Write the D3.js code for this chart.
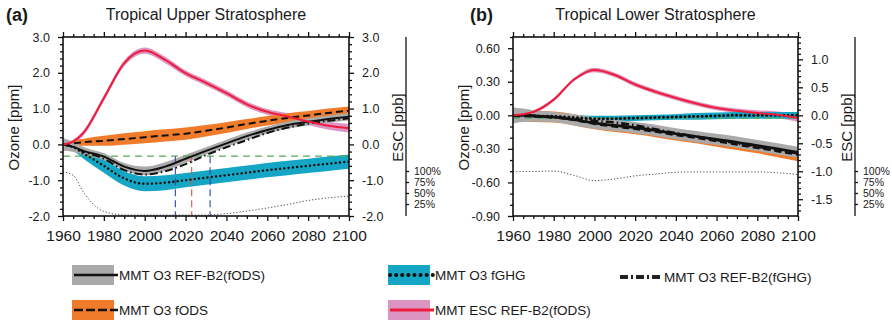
<!DOCTYPE html>
<html>
<head>
<meta charset="utf-8">
<script src="https://cdn.jsdelivr.net/npm/d3@7"></script>
<style>
  body { margin: 0; background: #fff; }
  text { font-family: "Liberation Sans", Arial, Helvetica, sans-serif; fill: #1a1a1a; }
</style>
</head>
<body>
<svg id="chart" width="892" height="323"></svg>
<script>
// ---- data ----
var years = [1960, 1965, 1970, 1980, 1990, 2000, 2010, 2020, 2030, 2040, 2050, 2060, 2070, 2080, 2090, 2100];

// (a) Tropical Upper Stratosphere, ozone in ppm, ESC in ppb
var escA       = [0.0, 0.08, 0.32, 1.29, 2.27, 2.62, 2.36, 1.99, 1.72, 1.43, 1.12, 0.91, 0.78, 0.64, 0.52, 0.45];
var escSprA    = [0.05, 0.06, 0.07, 0.08, 0.08, 0.09, 0.09, 0.08, 0.08, 0.08, 0.08, 0.08, 0.09, 0.10, 0.11, 0.12];
var refA       = [0.0, -0.07, -0.18, -0.34, -0.62, -0.74, -0.62, -0.40, -0.18, 0.03, 0.23, 0.40, 0.54, 0.63, 0.71, 0.77];
var refSprA    = [0.18, 0.14, 0.11, 0.10, 0.10, 0.12, 0.12, 0.11, 0.10, 0.10, 0.10, 0.10, 0.10, 0.10, 0.10, 0.10];
var refGhgA    = [0.0, -0.07, -0.20, -0.40, -0.72, -0.84, -0.75, -0.55, -0.30, -0.08, 0.12, 0.32, 0.47, 0.58, 0.66, 0.73];
var fodsA      = [0.0, 0.03, 0.06, 0.10, 0.15, 0.20, 0.25, 0.30, 0.38, 0.47, 0.57, 0.66, 0.74, 0.81, 0.88, 0.94];
var fodsSprA   = [0.05, 0.08, 0.10, 0.14, 0.16, 0.17, 0.17, 0.17, 0.16, 0.15, 0.14, 0.13, 0.13, 0.12, 0.12, 0.12];
var fghgA      = [0.0, -0.08, -0.25, -0.60, -0.95, -1.10, -1.07, -1.00, -0.93, -0.86, -0.79, -0.72, -0.66, -0.60, -0.54, -0.48];
var fghgSprA   = [0.05, 0.10, 0.15, 0.19, 0.20, 0.21, 0.21, 0.20, 0.20, 0.20, 0.20, 0.20, 0.20, 0.20, 0.20, 0.20];
var pctA       = [98, 90, 52, 8, 0, 0, 0, 0, 0, 3, 9, 16, 24, 33, 39, 43];
var baseA = -0.33;
var returnA = [2015, 2023, 2032];

// (b) Tropical Lower Stratosphere
var escB       = [0.0, 0.02, 0.06, 0.28, 0.64, 0.81, 0.72, 0.55, 0.42, 0.31, 0.21, 0.13, 0.08, 0.04, 0.01, -0.05];
var escSprB    = [0.02, 0.02, 0.03, 0.03, 0.03, 0.04, 0.04, 0.04, 0.04, 0.04, 0.04, 0.04, 0.04, 0.05, 0.06, 0.07];
var refB       = [0.0, 0.0, -0.005, -0.015, -0.04, -0.07, -0.09, -0.11, -0.135, -0.165, -0.19, -0.215, -0.24, -0.27, -0.30, -0.33];
var refSprB    = [0.07, 0.06, 0.05, 0.045, 0.05, 0.05, 0.05, 0.05, 0.05, 0.05, 0.05, 0.05, 0.05, 0.05, 0.05, 0.05];
var refGhgB    = [0.0, 0.0, -0.005, -0.02, -0.035, -0.05, -0.065, -0.09, -0.125, -0.16, -0.19, -0.22, -0.25, -0.28, -0.31, -0.34];
var fodsB      = [-0.005, -0.005, -0.01, -0.015, -0.04, -0.075, -0.10, -0.12, -0.145, -0.175, -0.20, -0.23, -0.26, -0.29, -0.32, -0.35];
var fodsSprB   = [0.05, 0.05, 0.05, 0.05, 0.05, 0.05, 0.05, 0.05, 0.05, 0.05, 0.05, 0.05, 0.05, 0.05, 0.055, 0.06];
var fghgB      = [0.0, 0.0, -0.005, -0.01, -0.02, -0.03, -0.03, -0.025, -0.02, -0.015, -0.01, -0.005, 0.0, 0.0, 0.0, 0.0];
var fghgSprB   = [0.02, 0.02, 0.02, 0.02, 0.025, 0.025, 0.025, 0.025, 0.025, 0.025, 0.03, 0.03, 0.03, 0.03, 0.03, 0.03];
var pctB       = [98, 99, 99, 100, 90, 78, 82, 89, 93, 97, 98, 98, 98, 98, 96, 92];
var baseB = -0.025;

var xTicks = [1960, 1980, 2000, 2020, 2040, 2060, 2080, 2100];
var pctTicks = [100, 75, 50, 25];

var legendItems = [
  { label: 'MMT O3 REF-B2(fODS)', band: '#aaaaaa', line: 'solid' },
  { label: 'MMT O3 fODS', band: '#f07b2b', line: 'dash' },
  { label: 'MMT O3 fGHG', band: '#14a6c4', line: 'dot' },
  { label: 'MMT ESC REF-B2(fODS)', band: '#dc94c2', line: 'red' },
  { label: 'MMT O3 REF-B2(fGHG)', band: null, line: 'dashdot' }
];

var colors = {
  gray: '#aaaaaa', orange: '#f07b2b', cyan: '#14a6c4', pink: '#dc94c2',
  red: '#ee1d3c', green: '#5aab5a', blue: '#2c4aa0', redDash: '#e8503a'
};

var svg = d3.select('#chart');

function fmt(spec) {
  var f = d3.format(spec);
  return function(d) { return f(d).replace('\u2212', '-'); };
}

function drawPanel(p) {
  var x = d3.scaleLinear().domain([1960, 2100]).range([p.x0, p.x1]);
  var y = d3.scaleLinear().domain(p.yDomain).range([p.y1, p.y0]);
  var yR = d3.scaleLinear().domain(p.yRDomain).range([p.y1, p.y0]);
  var yP = d3.scaleLinear().domain([0, 100]).range([p.y1 - 1, p.y1 - 45]);

  var clipId = 'clip' + p.name;
  svg.append('clipPath').attr('id', clipId)
    .append('rect').attr('x', p.x0).attr('y', p.y0)
    .attr('width', p.x1 - p.x0).attr('height', p.y1 - p.y0);

  var g = svg.append('g').attr('clip-path', 'url(#' + clipId + ')');

  function band(vals, spr, scale, fill) {
    var area = d3.area()
      .x(function(d, i) { return x(years[i]); })
      .y0(function(d, i) { return scale(d - spr[i]); })
      .y1(function(d, i) { return scale(d + spr[i]); })
      .curve(d3.curveMonotoneX);
    g.append('path').datum(vals).attr('d', area).attr('fill', fill);
  }
  function line(vals, scale, stroke, width, dash, cap) {
    var ln = d3.line()
      .x(function(d, i) { return x(years[i]); })
      .y(function(d) { return scale(d); })
      .curve(d3.curveMonotoneX);
    g.append('path').datum(vals).attr('d', ln)
      .attr('fill', 'none').attr('stroke', stroke)
      .attr('stroke-width', width)
      .attr('stroke-dasharray', dash || null)
      .attr('stroke-linecap', cap || 'butt');
  }

  // bands
  band(p.esc, p.escSpr, yR, colors.pink);
  band(p.fghg, p.fghgSpr, y, colors.cyan);
  band(p.fods, p.fodsSpr, y, colors.orange);
  band(p.ref, p.refSpr, y, colors.gray);

  // baseline (1980 value) and return dates
  g.append('line')
    .attr('x1', x(1960)).attr('x2', x(2100))
    .attr('y1', y(p.base)).attr('y2', y(p.base))
    .attr('stroke', colors.green).attr('stroke-width', 1.2)
    .attr('stroke-dasharray', '7,5');
  (p.ret || []).forEach(function(yr, i) {
    g.append('line')
      .attr('x1', x(yr)).attr('x2', x(yr))
      .attr('y1', y(p.base)).attr('y2', p.y1)
      .attr('stroke', i === 1 ? colors.redDash : colors.blue)
      .attr('stroke-width', 1.1)
      .attr('stroke-dasharray', '7,4');
  });

  // thin dotted percentage line
  line(p.pct, yP, '#333', 0.9, '1.2,2');

  // lines
  line(p.fods, y, '#111', p.lw, '7,4');
  line(p.fghg, y, '#111', p.lw + 0.4, '0.1,4.2', 'round');
  line(p.refGhg, y, '#111', p.lw, '8,3,1.5,3');
  line(p.ref, y, '#111', p.lw);
  line(p.esc, yR, colors.red, 2);

  // axes
  var xMinor = d3.range(1960, 2101, 5).filter(function(d) { return xTicks.indexOf(d) < 0; });
  function addAxis(axis, tr) {
    var a = svg.append('g').attr('transform', tr).call(axis);
    a.select('.domain').remove();
    a.selectAll('line').attr('stroke', '#111').attr('stroke-width', 1.3);
    return a;
  }

  var xb = addAxis(d3.axisBottom(x).tickValues(xTicks).tickSize(5).tickPadding(9).tickFormat(d3.format('d')),
    'translate(0,' + p.y1 + ')');
  xb.selectAll('text').attr('font-size', 15.5).attr('fill', '#1a1a1a');
  addAxis(d3.axisBottom(x).tickValues(xMinor).tickSize(3).tickFormat(''), 'translate(0,' + p.y1 + ')');
  addAxis(d3.axisTop(x).tickValues(xTicks).tickSize(5).tickFormat(''), 'translate(0,' + p.y0 + ')');
  addAxis(d3.axisTop(x).tickValues(xMinor).tickSize(3).tickFormat(''), 'translate(0,' + p.y0 + ')');

  var yl = addAxis(d3.axisLeft(y).tickValues(p.yTicks).tickSize(5).tickPadding(8).tickFormat(fmt(p.yFmt)),
    'translate(' + p.x0 + ',0)');
  yl.selectAll('text').attr('font-size', 12.5).attr('fill', '#1a1a1a');
  addAxis(d3.axisLeft(y).tickValues(p.yMinor).tickSize(3).tickFormat(''), 'translate(' + p.x0 + ',0)');

  var yr = addAxis(d3.axisRight(yR).tickValues(p.yRTicks).tickSize(5).tickPadding(8).tickFormat(fmt('.1f')),
    'translate(' + p.x1 + ',0)');
  yr.selectAll('text').attr('font-size', 12.5).attr('fill', '#1a1a1a');
  addAxis(d3.axisRight(yR).tickValues(p.yRMinor).tickSize(3).tickFormat(''), 'translate(' + p.x1 + ',0)');

  // frame
  svg.append('rect')
    .attr('x', p.x0).attr('y', p.y0)
    .attr('width', p.x1 - p.x0).attr('height', p.y1 - p.y0)
    .attr('fill', 'none').attr('stroke', '#111').attr('stroke-width', 1.6);

  // percentage scale
  var px = p.x1 + 57;
  svg.append('line').attr('x1', px).attr('x2', px).attr('y1', p.y0).attr('y2', p.y1)
    .attr('stroke', '#111').attr('stroke-width', 1.3);
  var pa = addAxis(d3.axisRight(yP).tickValues(pctTicks).tickSize(3).tickPadding(5)
    .tickFormat(function(d) { return d + '%'; }), 'translate(' + px + ',0)');
  pa.selectAll('text').attr('font-size', 10.5).attr('fill', '#1a1a1a');

  // labels
  svg.append('text')
    .attr('transform', 'translate(' + (p.x0 - 44) + ',' + ((p.y0 + p.y1) / 2 + 1) + ') rotate(-90)')
    .attr('text-anchor', 'middle').attr('font-size', 15)
    .text('Ozone [ppm]');
  svg.append('text')
    .attr('transform', 'translate(' + (p.x1 + 54) + ',' + ((p.y0 + p.y1) / 2 + 1) + ') rotate(-90)')
    .attr('text-anchor', 'middle').attr('font-size', 15)
    .text('ESC [ppb]');
  svg.append('text')
    .attr('x', (p.x0 + p.x1) / 2).attr('y', 20)
    .attr('text-anchor', 'middle').attr('font-size', 16)
    .text(p.title);
  svg.append('text')
    .attr('x', p.tagX).attr('y', 21)
    .attr('font-size', 18).attr('font-weight', 'bold')
    .text(p.tag);
}

drawPanel({
  name: 'a', tag: '(a)', tagX: 6, title: 'Tropical Upper Stratosphere', lw: 2,
  x0: 63, x1: 349, y0: 37, y1: 216,
  yDomain: [-2, 3], yRDomain: [-2, 3],
  yTicks: [-2, -1, 0, 1, 2, 3], yFmt: '.1f',
  yMinor: d3.range(-1.8, 3, 0.2).filter(function(d) { return Math.abs(d - Math.round(d)) > 0.01; }),
  yRTicks: [-2, -1, 0, 1, 2, 3],
  yRMinor: d3.range(-1.8, 3, 0.2).filter(function(d) { return Math.abs(d - Math.round(d)) > 0.01; }),
  esc: escA, escSpr: escSprA, ref: refA, refSpr: refSprA, refGhg: refGhgA,
  fods: fodsA, fodsSpr: fodsSprA, fghg: fghgA, fghgSpr: fghgSprA,
  pct: pctA, base: baseA, ret: returnA
});

drawPanel({
  name: 'b', tag: '(b)', tagX: 470, title: 'Tropical Lower Stratosphere', lw: 2.6,
  x0: 513, x1: 798, y0: 37, y1: 216,
  yDomain: [-0.9, 0.7], yRDomain: [-1.8, 1.4],
  yTicks: [-0.9, -0.6, -0.3, 0, 0.3, 0.6], yFmt: '.2f',
  yMinor: [-0.8, -0.7, -0.5, -0.4, -0.2, -0.1, 0.1, 0.2, 0.4, 0.5, 0.7],
  yRTicks: [-1.5, -1, -0.5, 0, 0.5, 1],
  yRMinor: d3.range(-1.7, 1.41, 0.1).filter(function(d) { return Math.abs(d * 2 - Math.round(d * 2)) > 0.01; }),
  esc: escB, escSpr: escSprB, ref: refB, refSpr: refSprB, refGhg: refGhgB,
  fods: fodsB, fodsSpr: fodsSprB, fghg: fghgB, fghgSpr: fghgSprB,
  pct: pctB, base: baseB, ret: []
});

// ---- legend ----
var legendPos = [
  { x: 72, y: 265 }, { x: 72, y: 300 }, { x: 388, y: 265 }, { x: 388, y: 300 }, { x: 620, y: 267 }
];
legendItems.forEach(function(it, i) {
  var pos = legendPos[i];
  var lg = svg.append('g').attr('transform', 'translate(' + pos.x + ',' + pos.y + ')');
  var cy = 10;
  if (it.band) {
    lg.append('rect').attr('width', 42).attr('height', 20).attr('fill', it.band);
  }
  var ln = lg.append('line').attr('x1', 2).attr('x2', 46).attr('y1', cy).attr('y2', cy)
    .attr('stroke', '#111').attr('stroke-width', 2.5);
  if (it.line === 'dash') ln.attr('stroke-dasharray', '9,3');
  if (it.line === 'dot') ln.attr('stroke-dasharray', '0.1,6').attr('stroke-linecap', 'round').attr('stroke-width', 4);
  if (it.line === 'red') ln.attr('stroke', colors.red).attr('stroke-width', 3);
  if (it.line === 'dashdot') ln.attr('x1', 0).attr('x2', 43).attr('stroke-width', 4)
    .attr('stroke-dasharray', '8,3,2,3').attr('stroke', '#222');
  lg.append('text')
    .attr('x', it.band ? 47 : 44).attr('y', cy + 5)
    .attr('font-size', 13.5)
    .text(it.label);
});
</script>
</body>
</html>
